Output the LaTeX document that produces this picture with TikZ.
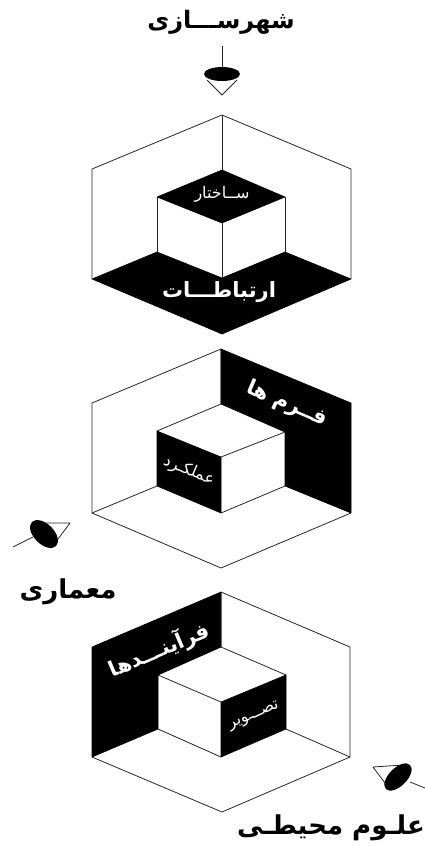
\documentclass[tikz,border=0pt]{standalone}
\usepackage{fontspec}
\newfontfamily\farsi[Script=Arabic]{DejaVu Sans}
\TeXXeTstate=1

\begin{document}
\begin{tikzpicture}[
    x=1pt, y=-1pt,
    edge/.style={draw=black!85, line width=0.8pt, line join=round},
    face/.style={fill=black, draw=black, line width=0.6pt, line join=round},
    title/.style={font=\farsi\bfseries\fontsize{24}{24}\selectfont, text=black, inner sep=0pt},
    lblbig/.style={font=\farsi\bfseries\fontsize{21}{21}\selectfont, text=white, inner sep=0pt},
    lblsmall/.style={font=\farsi\fontsize{16}{16}\selectfont, text=white, inner sep=0pt},
]
\useasboundingbox (0,0) rectangle (425,845);
\clip (0,0) rectangle (425,845);

% ══════════════════════════════════════
%  TOP: view from above
% ══════════════════════════════════════

% Title and eye
\node[title] (urban) at (221,22) {\beginR شهرســـازی\endR};
\draw[edge] (222,46) -- (222,68);
\draw[edge] (207,80) -- (222,95) -- (237,80);
\fill (222,74) ellipse (18 and 7);

% Black faces
\fill[face] (157,252) -- (222,278) -- (285,252) -- (351,279) -- (222,334) -- (92,279) -- cycle;
\fill[face] (222,170) -- (285,197) -- (222,223) -- (157,197) -- cycle;

% Edges
\draw[edge] (92,279) -- (92,169) -- (222,115) -- (351,169) -- (351,279);
\draw[edge] (222,115) -- (222,170);
\draw[edge] (157,197) -- (157,252);
\draw[edge] (222,223) -- (222,278);
\draw[edge] (285,197) -- (285,252);

% Labels
\node[lblsmall] (structure) at (222,194) {\beginR ســاختار\endR};
\node[lblbig] (links) at (219,292) {\beginR ارتباطـــات\endR};

% ══════════════════════════════════════
%  MIDDLE: view from the left
% ══════════════════════════════════════

% Black faces
\fill[face] (221,349) -- (351,403) -- (351,513) -- (285,486) -- (285,432) -- (221,404) -- cycle;
\fill[face] (157,431) -- (221,457) -- (221,513) -- (157,486) -- cycle;

% Edges
\draw[edge] (221,404) -- (221,349) -- (92,403) -- (92,513) -- (221,568) -- (351,513);
\draw[edge] (92,513) -- (157,486);
\draw[edge] (221,513) -- (285,486);
\draw[edge] (157,431) -- (221,404);
\draw[edge] (221,457) -- (285,432);

% Labels
\node[lblbig, rotate=-23] (forms) at (287,404) {\beginR فــرم ها\endR};
\node[lblsmall, rotate=-23] (function) at (189,471) {\beginR عملکـرد\endR};

% Eye and title
\draw[edge] (13,547) -- (33,537);
\draw[edge] (41,523) -- (70,523) -- (55,543);
\fill[rotate around={-45:(44,534)}] (44,534) ellipse (17 and 10);
\node[title, font=\farsi\bfseries\fontsize{26}{26}\selectfont] (architecture) at (68,592) {\beginR معماری\endR};

% ══════════════════════════════════════
%  BOTTOM: view from the right
% ══════════════════════════════════════

% Black faces
\fill[face] (221,592) -- (92,647) -- (92,757) -- (158,729) -- (158,675) -- (221,647) -- cycle;
\fill[face] (286,675) -- (221,702) -- (221,757) -- (286,729) -- cycle;

% Edges
\draw[edge] (221,647) -- (221,592) -- (350,647) -- (350,757) -- (222,812) -- (92,757);
\draw[edge] (350,757) -- (286,729);
\draw[edge] (221,757) -- (158,729);
\draw[edge] (286,675) -- (221,647);
\draw[edge] (158,675) -- (221,702);

% Labels
\node[lblbig, rotate=23] (processes) at (159,650) {\beginR فرآینـــدها\endR};
\node[lblsmall, rotate=23] (image) at (254,716) {\beginR تصـــویر\endR};

% Eye and title
\draw[edge] (410,782) -- (425,788);
\draw[edge] (403,765) -- (373,767) -- (388,787);
\fill[rotate around={45:(398,777)}] (398,777) ellipse (17 and 9);
\node[title, font=\farsi\bfseries\fontsize{26}{26}\selectfont] (environment) at (331,828) {\beginR علـوم محیطـی\endR};

\end{tikzpicture}
\end{document}
